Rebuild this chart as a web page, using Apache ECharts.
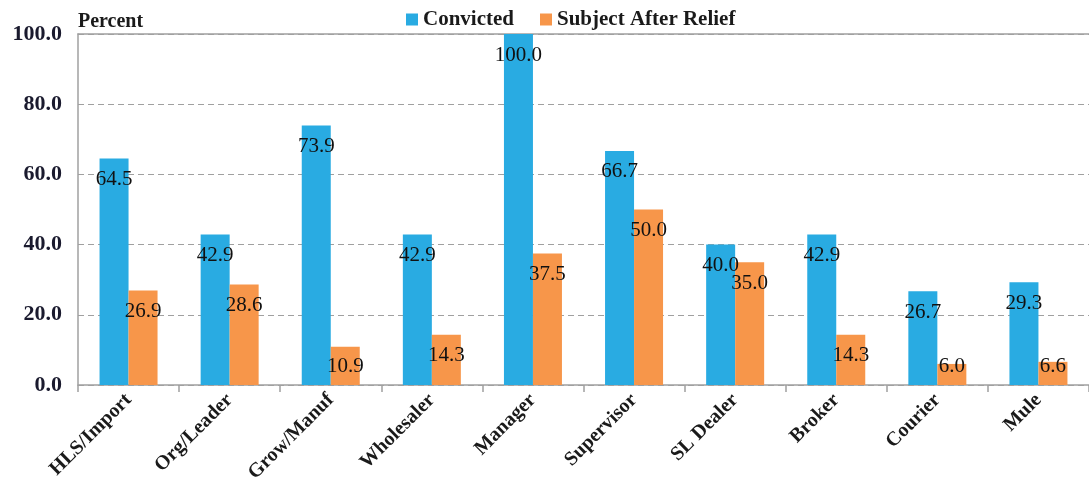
<!DOCTYPE html>
<html><head><meta charset="utf-8">
<script src="https://cdn.jsdelivr.net/npm/echarts@6/dist/echarts.min.js"></script>
<style>html,body{margin:0;padding:0;background:#fff}#c{width:1089px;height:498px}</style>
</head><body><div id="c"></div>
<script>
const categories = ['HLS/Import','Org/Leader','Grow/Manuf','Wholesaler','Manager','Supervisor','SL Dealer','Broker','Courier','Mule'];
const convicted = [64.5, 42.9, 73.9, 42.9, 100.0, 66.7, 40.0, 42.9, 26.7, 29.3];
const subjectAfterRelief = [26.9, 28.6, 10.9, 14.3, 37.5, 50.0, 35.0, 14.3, 6.0, 6.6];
const seriesNames = ['Convicted', 'Subject After Relief'];
const yTicks = [0, 20, 40, 60, 80, 100];

const FONT = '"Liberation Serif", "Times New Roman", serif';
const GRID_TOP = 34, GRID_BOTTOM = 113, H = 498;
const baseY = H - GRID_BOTTOM;
const chart = echarts.init(document.getElementById('c'), null, {renderer: 'canvas'});
const labelCfg = {
  show: true, position: 'insideTop', distance: 11,
  color: '#111', fontFamily: FONT, fontSize: 21,
  formatter: p => p.value.toFixed(1)
};
const labelLayout = p => ({
  y: Math.min(p.rect.y + 21, baseY - 19),
  verticalAlign: 'middle', align: 'center',
  x: p.rect.x + p.rect.width / 2
});
chart.setOption({
  animation: false,
  title: {text: 'Percent', left: 73, top: 7,
    textStyle: {fontFamily: FONT, fontWeight: 'bold', fontSize: 20, color: '#1a1a1a'}},
  legend: {left: 401, top: 4, itemWidth: 12, itemHeight: 12, itemGap: 26,
    icon: 'rect',
    textStyle: {fontFamily: FONT, fontWeight: 'bold', fontSize: 21, color: '#1a1a1a'},
    data: seriesNames},
  grid: {left: 78, right: -11, top: GRID_TOP, bottom: GRID_BOTTOM},
  xAxis: [{
    type: 'category', data: categories,
    axisLine: {lineStyle: {color: '#a0a0a0', width: 1.5}},
    axisTick: {show: true, alignWithLabel: false, length: 7, lineStyle: {color: '#a0a0a0', width: 1.5}},
    axisLabel: {rotate: 45, margin: 12, interval: 0, color: '#1a1a1a',
      fontFamily: FONT, fontWeight: 'bold', fontSize: 20}
  }, {
    type: 'category', data: categories, position: 'top',
    axisLine: {show: true, lineStyle: {color: '#a0a0a0', width: 1.5}},
    axisTick: {show: false}, axisLabel: {show: false}
  }],
  yAxis: {
    type: 'value', min: yTicks[0], max: yTicks[yTicks.length - 1], interval: 20,
    axisLine: {show: true, lineStyle: {color: '#a0a0a0', width: 1.5}},
    axisTick: {show: false},
    splitLine: {lineStyle: {color: '#a0a0a0', type: [6, 4], width: 1.2}},
    axisLabel: {margin: 16, color: '#1a1a2e', fontFamily: FONT, fontWeight: 'bold', fontSize: 22,
      formatter: v => v.toFixed(1)}
  },
  series: [
    {name: seriesNames[0], type: 'bar', data: convicted, barWidth: 29, barGap: '0%',
      itemStyle: {color: '#29abe2'}, label: labelCfg, labelLayout: labelLayout},
    {name: seriesNames[1], type: 'bar', data: subjectAfterRelief, barWidth: 29,
      itemStyle: {color: '#f7964a'}, label: labelCfg, labelLayout: labelLayout}
  ]
});
</script></body></html>
